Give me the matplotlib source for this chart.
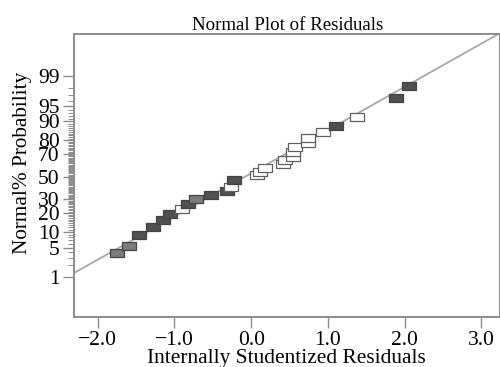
import math
import numpy as np
import matplotlib
matplotlib.use("Agg")
import matplotlib.pyplot as plt
from matplotlib.path import Path

# residuals, with their normal % probability
residuals = [-1.75, -1.59, -1.46, -1.28, -1.15, -1.06, -0.90, -0.82, -0.72, -0.52,
             -0.31, -0.26, -0.22, 0.08, 0.12, 0.18, 0.42, 0.44, 0.54, 0.55,
             0.57, 0.74, 0.74, 0.94, 1.10, 1.38, 1.89, 2.06]
probability = [3.8, 5.4, 8.8, 12.1, 15.7, 19.3, 22.6, 26.2, 30.1, 33.4,
               36.9, 40.4, 46.8, 51.4, 54.1, 57.8, 61.4, 64.9, 67.4, 71.5,
               75.3, 78.1, 81.4, 84.9, 87.9, 91.6, 96.5, 98.2]
# 0 = dark, 1 = mid gray, 2 = white
shade = [1, 1, 0, 0, 0, 0, 2, 0, 1, 0,
         0, 2, 0, 2, 2, 2, 2, 2, 2, 2,
         2, 2, 2, 2, 0, 2, 0, 0]
shade_colors = ["#505050", "#7c7c7c", "#ffffff"]

prob_labels = [1, 5, 10, 20, 30, 50, 70, 80, 90, 95, 99]
x_ticks = [-2.0, -1.0, 0.0, 1.0, 2.0, 3.0]

fit_slope = 1.0
fit_intercept = 0.08


def norm_ppf(p):
    # bisection on the normal cdf
    lo, hi = -10.0, 10.0
    for _ in range(80):
        mid = (lo + hi) / 2
        if 0.5 * (1 + math.erf(mid / math.sqrt(2))) < p:
            lo = mid
        else:
            hi = mid
    return (lo + hi) / 2


plt.rcParams['font.family'] = ['Liberation Serif', 'DejaVu Serif']

fig = plt.figure(figsize=(5.0, 3.67), dpi=100)
ax = fig.add_axes([0.148, 0.136, 0.853, 0.771])

xlim = (-2.31, 3.25)
ax.set_xlim(*xlim)
ax.set_ylim(-3.25, 3.30)

xs = np.array(xlim)
ax.plot(xs, fit_slope * xs + fit_intercept, color="#a8a8a8", lw=1.3, zorder=1)

rect = Path([(-1.6, -1), (1.6, -1), (1.6, 1), (-1.6, 1), (-1.6, -1)],
            [Path.MOVETO, Path.LINETO, Path.LINETO, Path.LINETO, Path.CLOSEPOLY])
z = [norm_ppf(p / 100) for p in probability]
for r, zz, s in zip(residuals, z, shade):
    ax.plot(r, zz, marker=rect, ms=10, mfc=shade_colors[s],
            mec="#444444" if s < 2 else "#606060",
            mew=0.9, ls="none", zorder=3)

ax.set_yticks([norm_ppf(p / 100) for p in prob_labels])
ax.set_yticklabels([str(p) for p in prob_labels])
ax.set_yticks([norm_ppf(p / 100) for p in range(1, 100) if p not in prob_labels],
              minor=True)
ax.set_xticks(x_ticks)
ax.set_xticklabels(["\u22122.0", "\u22121.0", "0.0", "1.0", "2.0", "3.0"])

for sp in ax.spines.values():
    sp.set_color("#8c8c8c")
    sp.set_linewidth(1.4)
ax.tick_params(axis="both", which="major", length=8, width=1.0, color="#8c8c8c",
               labelsize=15.5, pad=2.5)
ax.tick_params(axis="x", which="major", pad=2)
ax.tick_params(axis="y", which="minor", length=4, width=0.7, color="#8c8c8c")

ax.set_title("Normal Plot of Residuals", fontsize=13.6, pad=3)
ax.set_xlabel("Internally Studentized Residuals", fontsize=15.4, va="baseline")
ax.xaxis.set_label_coords(0.497, -0.1625)
ax.set_ylabel("Normal% Probability", fontsize=15.3, va="center")
ax.yaxis.set_label_coords(-0.12, 0.546)

fig.savefig("out.png", dpi=100)
